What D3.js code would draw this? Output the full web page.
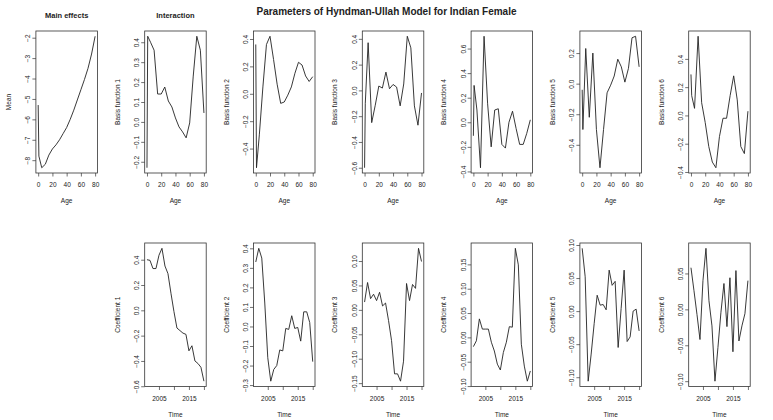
<!DOCTYPE html>
<html>
<head>
<meta charset="utf-8">
<script src="https://cdn.jsdelivr.net/npm/d3@7"></script>
<style>
  body { margin: 0; background: #fff; }
  svg text { font-family: "Liberation Sans", Arial, sans-serif; fill: #222; }
</style>
</head>
<body>
<div class="chart"></div>
<script>
// ages and years on the x axes
var ages = [0, 1, 5, 10, 15, 20, 25, 30, 35, 40, 45, 50, 55, 60, 65, 70, 75, 80];
var years = [2001, 2002, 2003, 2004, 2005, 2006, 2007, 2008, 2009, 2010,
             2011, 2012, 2013, 2014, 2015, 2016, 2017, 2018, 2019, 2020];

// main effects (mean log rate by age)
var meanEffect = [-5.3, -7.8, -8.37, -8.2, -7.75, -7.45, -7.25, -7.0, -6.7,
                  -6.4, -6.0, -5.55, -5.05, -4.55, -4.05, -3.5, -2.8, -1.93];

// basis functions
var basis1 = [-0.23, 0.43, 0.40, 0.36, 0.14, 0.14, 0.175, 0.105, 0.075,
              0.02, -0.025, -0.05, -0.08, -0.005, 0.23, 0.43, 0.36, 0.045];
var basis2 = [0.36, -0.54, -0.3, 0.05, 0.36, 0.42, 0.25, 0.07, -0.07,
              -0.06, -0.01, 0.05, 0.15, 0.23, 0.21, 0.13, 0.09, 0.125];
var basis3 = [-0.6, -0.1, 0.37, -0.25, -0.115, 0.034, 0.018, 0.142, 0.013,
              0.046, 0.026, -0.12, 0.05, 0.42, 0.33, -0.12, -0.27, -0.02];
var basis4 = [-0.11, 0.30, 0.10, -0.37, 0.70, 0.15, -0.20, 0.10, 0.11,
              -0.18, -0.21, 0.0, 0.09, -0.05, -0.18, -0.18, -0.09, 0.02];
var basis5 = [-0.04, -0.30, 0.23, -0.22, 0.20, -0.30, -0.55, -0.30, -0.06,
              -0.01, 0.05, 0.16, 0.11, 0.01, 0.10, 0.30, 0.31, 0.11];
var basis6 = [0.29, 0.14, 0.05, 0.56, 0.09, -0.05, -0.22, -0.33, -0.37,
              -0.15, -0.02, -0.02, 0.14, 0.28, 0.11, -0.22, -0.27, 0.03];

// time coefficients
var coef1 = [0.40, 0.395, 0.33, 0.33, 0.435, 0.49, 0.35, 0.29, 0.135, -0.01,
             -0.14, -0.16, -0.18, -0.19, -0.32, -0.28, -0.40, -0.42, -0.45, -0.56];
var coef2 = [0.33, 0.40, 0.35, 0.12, -0.16, -0.28, -0.22, -0.20, -0.12, -0.125,
             -0.01, -0.015, 0.055, -0.01, -0.005, -0.075, 0.075, 0.075, 0.02, -0.18];
var coef3 = [0.016, 0.056, 0.023, 0.032, 0.019, 0.036, 0.008, 0.014, -0.022, -0.063,
             -0.131, -0.131, -0.146, -0.105, 0.054, 0.019, 0.052, 0.044, 0.126, 0.099];
var coef4 = [-0.019, -0.007, 0.038, 0.017, 0.017, 0.017, -0.010, -0.028, -0.055, -0.067,
             -0.031, -0.010, 0.022, 0.021, 0.183, 0.149, -0.014, -0.059, -0.090, -0.069];
var coef5 = [0.095, 0.052, -0.106, -0.065, -0.019, 0.024, 0.009, 0.010, 0.002, 0.062,
             0.039, 0.045, -0.055, 0.004, 0.062, -0.046, -0.039, 0.0, 0.003, -0.03];
var coef6 = [0.058, 0.026, -0.007, -0.042, 0.040, 0.085, 0.012, -0.023, -0.100, -0.053,
             -0.004, 0.036, -0.024, 0.044, -0.059, 0.054, -0.044, -0.023, -0.006, 0.040];

// tick values and labels
var ageTicks = [0, 20, 40, 60, 80];
var timeTicks = [2005, 2010, 2015, 2020];
var timeTickLabels = ["2005", "", "2015", ""];
var meanTicks = [-8, -7, -6, -5, -4, -3, -2];
var basis1Ticks = [-0.2, -0.1, 0.0, 0.1, 0.2, 0.3, 0.4];
var basis2Ticks = [-0.4, -0.2, 0.0, 0.2, 0.4];
var basis3Ticks = [-0.6, -0.4, -0.2, 0.0, 0.2, 0.4];
var basis4Ticks = [-0.4, -0.2, 0.0, 0.2, 0.4, 0.6];
var basis5Ticks = [-0.4, -0.2, 0.0, 0.2];
var basis6Ticks = [-0.4, -0.2, 0.0, 0.2, 0.4];
var coef1Ticks = [-0.6, -0.4, -0.2, 0.0, 0.2, 0.4];
var coef2Ticks = [-0.3, -0.2, -0.1, 0.0, 0.1, 0.2, 0.3, 0.4];
var coef3Ticks = [-0.15, -0.10, -0.05, 0.00, 0.05, 0.10];
var coef4Ticks = [-0.10, -0.05, 0.00, 0.05, 0.10, 0.15];
var coef5Ticks = [-0.10, -0.05, 0.00, 0.05, 0.10];
var coef6Ticks = [-0.10, -0.05, 0.00, 0.05];

var width = 773,
    height = 420,
    boxW = 61.5,
    colStep = 108.8,
    col0 = 35.9,
    rowTop = [31, 243],
    boxH = [142, 143.5];

var svg = d3.select(".chart").append("svg")
    .attr("width", width)
    .attr("height", height);

svg.append("text")
    .attr("x", width / 2)
    .attr("y", 15)
    .attr("text-anchor", "middle")
    .style("font-size", "10px")
    .style("font-weight", "bold")
    .text("Parameters of Hyndman-Ullah Model for Indian Female");

// R style padding: 4% of the data range on each side
function padded(vals) {
    var ext = d3.extent(vals), r = ext[1] - ext[0];
    return [ext[0] - 0.04 * r, ext[1] + 0.04 * r];
}

function drawPanel(p) {
    var left = col0 + p.col * colStep,
        top = rowTop[p.row],
        h = boxH[p.row];

    var x = d3.scaleLinear().domain(padded(p.xs)).range([left, left + boxW]);
    var y = d3.scaleLinear().domain(padded(p.ys)).range([top + h, top]);

    var g = svg.append("g");

    var xAxis = d3.axisBottom(x)
        .tickValues(p.xTicks)
        .tickSize(3.5)
        .tickPadding(2)
        .tickFormat(p.xFormat);
    var xg = g.append("g")
        .attr("transform", "translate(0," + (top + h) + ")")
        .call(xAxis);
    xg.select(".domain").remove();
    xg.selectAll("line").attr("stroke", "#333").attr("stroke-width", 0.7);
    xg.selectAll("text")
        .attr("y", 9.5)
        .attr("dy", "0.71em")
        .style("font-size", "6.5px")
        .style("font-family", "'Liberation Sans', Arial, sans-serif")
        .attr("fill", "#222");

    var yAxis = d3.axisLeft(y)
        .tickValues(p.yTicks)
        .tickSize(3.5)
        .tickFormat(p.yFormat);
    var yg = g.append("g")
        .attr("transform", "translate(" + left + ",0)")
        .call(yAxis);
    yg.select(".domain").remove();
    yg.selectAll("line").attr("stroke", "#333").attr("stroke-width", 0.7);
    yg.selectAll("text")
        .attr("transform", "rotate(-90)")
        .attr("x", 0)
        .attr("y", -5.5)
        .attr("dy", 0)
        .attr("text-anchor", "middle")
        .style("font-size", "6.5px")
        .style("font-family", "'Liberation Sans', Arial, sans-serif")
        .attr("fill", "#222");

    g.append("rect")
        .attr("x", left)
        .attr("y", top)
        .attr("width", boxW)
        .attr("height", h)
        .attr("fill", "none")
        .attr("stroke", "#333")
        .attr("stroke-width", 0.8);

    var line = d3.line()
        .x(function(d, i) { return x(p.xs[i]); })
        .y(function(d) { return y(d); });

    g.append("path")
        .datum(p.ys)
        .attr("d", line)
        .attr("fill", "none")
        .attr("stroke", "#222")
        .attr("stroke-width", 0.9)
        .attr("stroke-linejoin", "round");

    g.append("text")
        .attr("x", left + boxW / 2)
        .attr("y", top + h + 30)
        .attr("text-anchor", "middle")
        .style("font-size", "6.5px")
        .text(p.xLabel);

    g.append("text")
        .attr("transform", "translate(" + (left - 25) + "," + (top + h / 2) + ") rotate(-90)")
        .attr("text-anchor", "middle")
        .style("font-size", "6.5px")
        .text(p.yLabel);

    if (p.title) {
        g.append("text")
            .attr("x", left + boxW / 2)
            .attr("y", 18)
            .attr("text-anchor", "middle")
            .style("font-size", "7.5px")
            .style("font-weight", "bold")
            .text(p.title);
    }
}

var ageFmt = d3.format("d");
var timeFmt = function(d, i) { return timeTickLabels[i]; };
var f0 = d3.format("d"), f1 = d3.format(".1f"), f2 = d3.format(".2f");

var basisList = [basis1, basis2, basis3, basis4, basis5, basis6];
var basisTicks = [basis1Ticks, basis2Ticks, basis3Ticks, basis4Ticks, basis5Ticks, basis6Ticks];
var coefList = [coef1, coef2, coef3, coef4, coef5, coef6];
var coefTicks = [coef1Ticks, coef2Ticks, coef3Ticks, coef4Ticks, coef5Ticks, coef6Ticks];
var coefFmts = [f1, f1, f2, f2, f2, f2];

drawPanel({
    row: 0, col: 0, xs: ages, ys: meanEffect,
    xTicks: ageTicks, yTicks: meanTicks,
    xFormat: ageFmt, yFormat: f0,
    xLabel: "Age", yLabel: "Mean", title: "Main effects"
});

for (var k = 0; k < 6; k++) {
    drawPanel({
        row: 0, col: k + 1, xs: ages, ys: basisList[k],
        xTicks: ageTicks, yTicks: basisTicks[k],
        xFormat: ageFmt, yFormat: f1,
        xLabel: "Age", yLabel: "Basis function " + (k + 1),
        title: k === 0 ? "Interaction" : null
    });
    drawPanel({
        row: 1, col: k + 1, xs: years, ys: coefList[k],
        xTicks: timeTicks, yTicks: coefTicks[k],
        xFormat: timeFmt, yFormat: coefFmts[k],
        xLabel: "Time", yLabel: "Coefficient " + (k + 1)
    });
}
</script>
</body>
</html>
